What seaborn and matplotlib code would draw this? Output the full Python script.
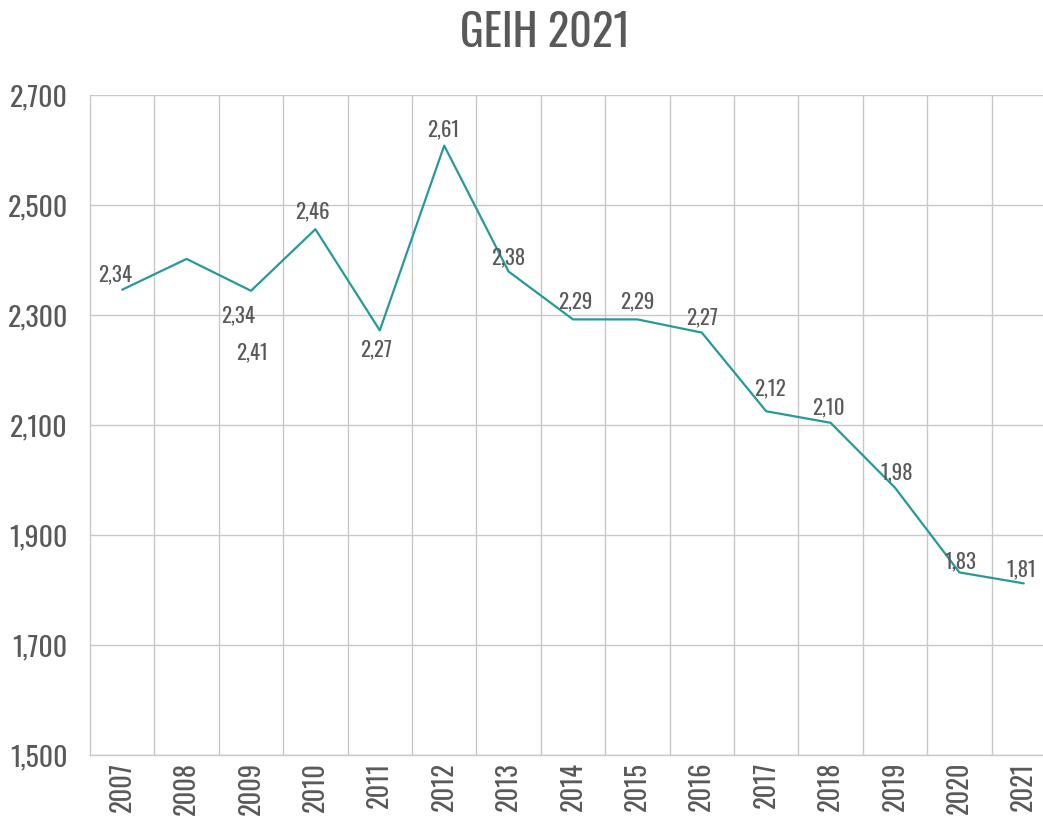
import matplotlib
matplotlib.use("Agg")
import matplotlib.pyplot as plt
from matplotlib import font_manager
from matplotlib.ticker import FuncFormatter, FixedLocator
import seaborn as sns
import pandas as pd

years = ["2007", "2008", "2009", "2010", "2011", "2012", "2013", "2014",
         "2015", "2016", "2017", "2018", "2019", "2020", "2021"]
values = [2346, 2402, 2344, 2456, 2272, 2608, 2379, 2292, 2292, 2268,
          2125, 2104, 1986, 1832, 1812]
point_labels = ["2,34", "2,41", "2,34", "2,46", "2,27", "2,61", "2,38", "2,29",
                "2,29", "2,27", "2,12", "2,10", "1,98", "1,83", "1,81"]
yticks = [1500, 1700, 1900, 2100, 2300, 2500, 2700]
title = "GEIH 2021"

# label offsets in pixels (dx, dy screen-down) relative to each point
label_offsets = [(-7, -15), (65, 93), (-13, 25), (-3, -18), (-4, 19), (-1, -16),
                 (0, -14), (2, -18), (0, -18), (0, -15), (4, -23), (-2, -15),
                 (2, -15), (1, -11), (-2, -14)]

avail = {f.name for f in font_manager.fontManager.ttflist}
font = "DejaVu Sans"
for cand in ["Oswald", "Roboto Condensed", "Liberation Sans Narrow",
             "DejaVu Sans Condensed", "Roboto"]:
    if cand in avail:
        font = cand
        break

sns.set_theme(style="white")
plt.rcParams["font.family"] = [font, "DejaVu Sans"]

text_color = "#595959"
grid_color = "#c8c8c8"
line_color = "#27999a"

df = pd.DataFrame({"year": years, "value": values})
df["pos"] = range(len(years))

fig = plt.figure(figsize=(10.43, 8.16), dpi=100)
ax = fig.add_axes([90 / 1043, 1 - 755 / 816, 966 / 1043, (755 - 95) / 816])

sns.lineplot(data=df, x="pos", y="value", ax=ax, color=line_color, linewidth=1.6)

ax.set_xlim(-0.5, len(years) - 0.5)
ax.set_ylim(yticks[0], yticks[-1])
ax.yaxis.set_major_locator(FixedLocator(yticks))
ax.yaxis.set_major_formatter(FuncFormatter(lambda v, p: f"{int(v):,}"))
ax.set_xticks(range(len(years)))
ax.set_xticklabels(years, rotation=90)
ax.set_xticks([i + 0.5 for i in range(len(years) - 1)], minor=True)

ax.grid(False)
ax.grid(True, axis="y", which="major", color=grid_color, linewidth=1)
ax.grid(True, axis="x", which="minor", color=grid_color, linewidth=1)
ax.tick_params(axis="both", which="both", length=0)
ax.tick_params(axis="y", labelsize=20, labelcolor=text_color, pad=16)
ax.tick_params(axis="x", labelsize=19, labelcolor=text_color, pad=5)

for s in ["top", "right"]:
    ax.spines[s].set_visible(False)
for s in ["left", "bottom"]:
    ax.spines[s].set_color(grid_color)
    ax.spines[s].set_linewidth(1)

ax.set_xlabel("")
ax.set_ylabel("")

for i, (v, lab) in enumerate(zip(values, point_labels)):
    dx, dy = label_offsets[i]
    ax.annotate(lab, (i, v), xytext=(dx * 0.72, -dy * 0.72),
                textcoords="offset points", ha="center", va="center",
                fontsize=15, color=text_color)

fig.text(545 / 1043, 1 - 33 / 816, title, ha="center", va="center",
         fontsize=32, color=text_color)

fig.savefig("out.png", dpi=100)
